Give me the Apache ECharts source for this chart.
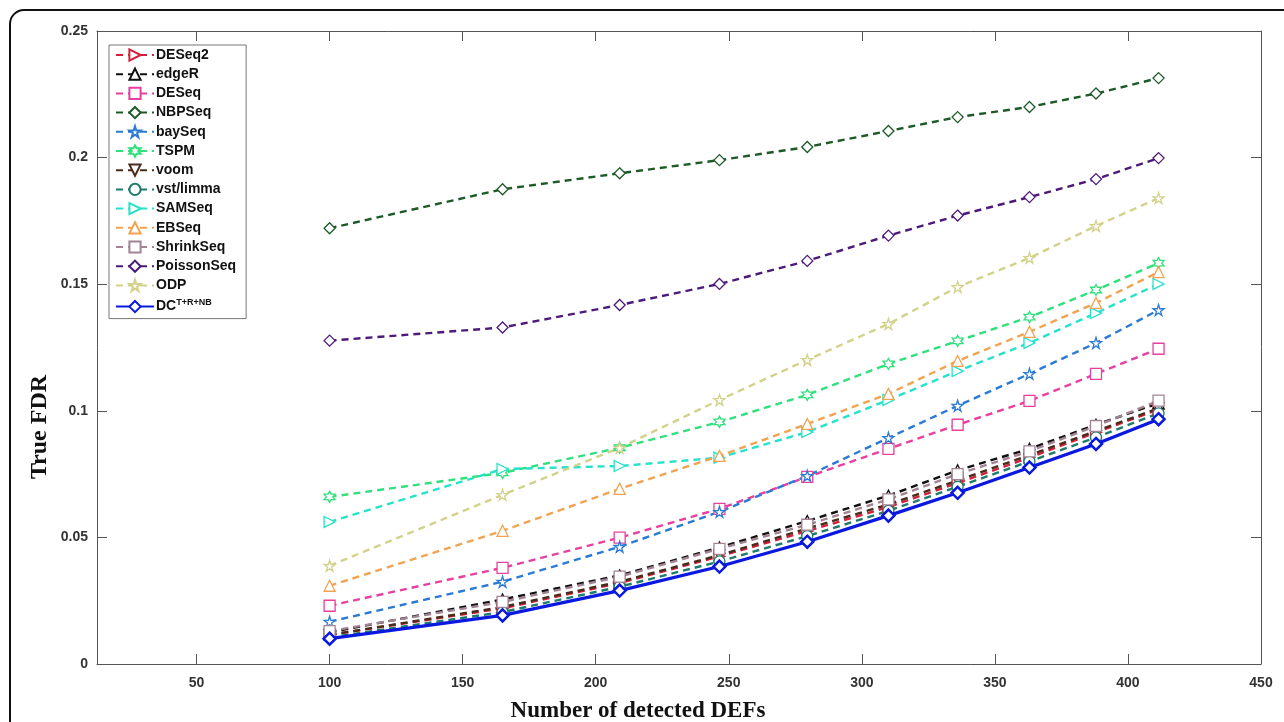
<!DOCTYPE html>
<html>
<head>
<meta charset="utf-8">
<script src="https://cdn.jsdelivr.net/npm/echarts@6/dist/echarts.min.js"></script>
<style>html,body{margin:0;padding:0;background:#fff;}#chart{width:1284px;height:722px;}</style>
</head>
<body>
<div id="chart"></div>
<script>
// ---- data ----
const xValues = [100, 165, 209, 246.5, 279.5, 310, 336, 363, 388, 411.5];
const seriesNames = ['DESeq2','edgeR','DESeq','NBPSeq','baySeq','TSPM','voom','vst/limma','SAMSeq','EBSeq','ShrinkSeq','PoissonSeq','ODP','DC'];
const deseq2     = [0.0115, 0.0220, 0.0320, 0.0425, 0.0525, 0.0620, 0.0715, 0.0815, 0.0915, 0.1005];
const edgeR      = [0.0125, 0.0255, 0.0350, 0.0460, 0.0565, 0.0665, 0.0765, 0.0850, 0.0945, 0.1030];
const deseq      = [0.0230, 0.0380, 0.0499, 0.0613, 0.0739, 0.0850, 0.0945, 0.1039, 0.1146, 0.1245];
const nbpseq     = [0.1721, 0.1875, 0.1938, 0.1990, 0.2042, 0.2105, 0.2160, 0.2200, 0.2253, 0.2314];
const bayseq     = [0.0167, 0.0325, 0.0463, 0.0601, 0.0743, 0.0893, 0.1020, 0.1146, 0.1268, 0.1398];
const tspm       = [0.0660, 0.0755, 0.0854, 0.0956, 0.1063, 0.1185, 0.1276, 0.1370, 0.1477, 0.1583];
const voom       = [0.0115, 0.0225, 0.0325, 0.0430, 0.0535, 0.0630, 0.0725, 0.0825, 0.0920, 0.1010];
const vstlimma   = [0.0105, 0.0205, 0.0305, 0.0405, 0.0505, 0.0605, 0.0700, 0.0800, 0.0895, 0.0990];
const samseq     = [0.0561, 0.0770, 0.0782, 0.0815, 0.0916, 0.1043, 0.1157, 0.1268, 0.1386, 0.1501];
const ebseq      = [0.0309, 0.0526, 0.0692, 0.0822, 0.0948, 0.1067, 0.1197, 0.1312, 0.1426, 0.1548];
const shrinkseq  = [0.0130, 0.0245, 0.0345, 0.0455, 0.0550, 0.0650, 0.0750, 0.0840, 0.0940, 0.1040];
const poissonseq = [0.1277, 0.1329, 0.1418, 0.1501, 0.1592, 0.1692, 0.1771, 0.1844, 0.1915, 0.1998];
const odp        = [0.0388, 0.0668, 0.0854, 0.1043, 0.1201, 0.1343, 0.1489, 0.1604, 0.1730, 0.1840];
const dc         = [0.0100, 0.0192, 0.0290, 0.0385, 0.0483, 0.0586, 0.0676, 0.0776, 0.0869, 0.0967];
const xTicks = [50, 100, 150, 200, 250, 300, 350, 400, 450];
const yTicks = [0, 0.05, 0.1, 0.15, 0.2, 0.25];

const valuesByName = {
  'DESeq2': deseq2, 'edgeR': edgeR, 'DESeq': deseq, 'NBPSeq': nbpseq, 'baySeq': bayseq,
  'TSPM': tspm, 'voom': voom, 'vst/limma': vstlimma, 'SAMSeq': samseq, 'EBSeq': ebseq,
  'ShrinkSeq': shrinkseq, 'PoissonSeq': poissonseq, 'ODP': odp, 'DC': dc
};

// ---- styles ----
const STAR5 = 'path://M50,0 L61,35 L98,35 L68,57 L79,91 L50,70 L21,91 L32,57 L2,35 L39,35 Z';
const STAR6 = 'path://M50,0 L62,25 L93,25 L75,50 L93,75 L62,75 L50,100 L38,75 L7,75 L25,50 L7,25 L38,25 Z';
const styleByName = {
  'DESeq2':     {c:'#d3203c', s:'triangle', r:-90},
  'edgeR':      {c:'#111111', s:'triangle', r:0},
  'DESeq':      {c:'#e8409e', s:'rect', r:0},
  'NBPSeq':     {c:'#1d5a28', s:'diamond', r:0},
  'baySeq':     {c:'#2a7ad6', s:STAR5, r:0},
  'TSPM':       {c:'#2fe07c', s:STAR6, r:0},
  'voom':       {c:'#4b2b1b', s:'triangle', r:180},
  'vst/limma':  {c:'#1f7b6b', s:'circle', r:0},
  'SAMSeq':     {c:'#25e2c9', s:'triangle', r:-90},
  'EBSeq':      {c:'#f2a352', s:'triangle', r:0},
  'ShrinkSeq':  {c:'#a48494', s:'rect', r:0},
  'PoissonSeq': {c:'#4c1a7a', s:'diamond', r:0},
  'ODP':        {c:'#d2d28c', s:STAR5, r:0},
  'DC':         {c:'#0a18e0', s:'diamond', r:0}
};

const series = seriesNames.map(name => {
  const st = styleByName[name];
  const isDC = name === 'DC';
  return {
    name: name,
    type: 'line',
    data: xValues.map((x, i) => [x, valuesByName[name][i]]),
    color: st.c,
    symbol: st.s,
    symbolRotate: st.r,
    symbolSize: isDC ? 12 : 11,
    showAllSymbol: true,
    z: isDC ? 5 : 2,
    lineStyle: {color: st.c, width: isDC ? 3.2 : 2.4, type: isDC ? 'solid' : [7, 5]},
    itemStyle: {color: '#ffffff', borderColor: st.c, borderWidth: isDC ? 2.5 : 1.3},
    emphasis: {disabled: true}
  };
});

const axisLineStyle = {color: '#555', width: 1};
const labelFont = {fontFamily: '"Liberation Sans", Arial, sans-serif', fontWeight: 'bold', fontSize: 14, color: '#333'};

const chart = echarts.init(document.getElementById('chart'), null, {renderer: 'canvas'});
chart.setOption({
  animation: false,
  backgroundColor: '#fff',
  grid: {left: 97, right: 23, top: 31, bottom: 58},
  xAxis: [
    {type: 'value', min: 12.6, max: 450, position: 'bottom',
     axisLine: {onZero: false, lineStyle: axisLineStyle},
     axisTick: {inside: true, length: 10, customValues: xTicks, lineStyle: axisLineStyle},
     axisLabel: Object.assign({margin: 12, customValues: xTicks}, labelFont),
     splitLine: {show: false}},
    {type: 'value', min: 12.6, max: 450, position: 'top',
     axisLine: {onZero: false, lineStyle: axisLineStyle},
     axisTick: {inside: true, length: 10, customValues: xTicks, lineStyle: axisLineStyle},
     axisLabel: {show: false},
     splitLine: {show: false}}
  ],
  yAxis: [
    {type: 'value', min: 0, max: 0.25, position: 'left',
     axisLine: {show: true, onZero: false, lineStyle: axisLineStyle},
     axisTick: {show: true, inside: true, length: 10, customValues: yTicks, lineStyle: axisLineStyle},
     axisLabel: Object.assign({margin: 9, customValues: yTicks}, labelFont),
     splitLine: {show: false}},
    {type: 'value', min: 0, max: 0.25, position: 'right',
     axisLine: {show: true, onZero: false, lineStyle: axisLineStyle},
     axisTick: {show: true, inside: true, length: 10, customValues: yTicks, lineStyle: axisLineStyle},
     axisLabel: {show: false},
     splitLine: {show: false}}
  ],
  legend: {
    data: seriesNames,
    orient: 'vertical',
    left: 109, top: 45,
    padding: [3, 10, 5, 6],
    itemWidth: 38, itemHeight: 14, itemGap: 5.2,
    backgroundColor: '#fff',
    borderColor: '#777', borderWidth: 1, borderRadius: 0,
    selectedMode: false,
    textStyle: {
      fontFamily: '"Liberation Sans", Arial, sans-serif', fontWeight: 'bold', fontSize: 14, color: '#111',
      padding: [0, 0, 0, -3],
      rich: {
        b: {fontFamily: '"Liberation Sans", Arial, sans-serif', fontWeight: 'bold', fontSize: 14, color: '#111'},
        sup: {fontFamily: '"Liberation Sans", Arial, sans-serif', fontWeight: 'bold', fontSize: 9, color: '#111', padding: [0, 0, 9, 0]}
      }
    },
    formatter: name => name === 'DC' ? '{b|DC}{sup|T+R+NB}' : name
  },
  graphic: [
    {type: 'rect', shape: {x: 10, y: 10, width: 1300, height: 760, r: [14, 0, 0, 0]},
     style: {fill: 'none', stroke: '#111', lineWidth: 2}, silent: true, z: 100},
    {type: 'text', x: 40, y: 427, rotation: Math.PI / 2,
     style: {text: 'True FDR', font: 'bold 24px "Liberation Serif", "Times New Roman", serif', fill: '#111', align: 'center', verticalAlign: 'middle'}},
    {type: 'text', x: 638, y: 711,
     style: {text: 'Number of detected DEFs', font: 'bold 23px "Liberation Serif", "Times New Roman", serif', fill: '#111', align: 'center', verticalAlign: 'middle'}}
  ],
  series: series
});
</script>
</body>
</html>
